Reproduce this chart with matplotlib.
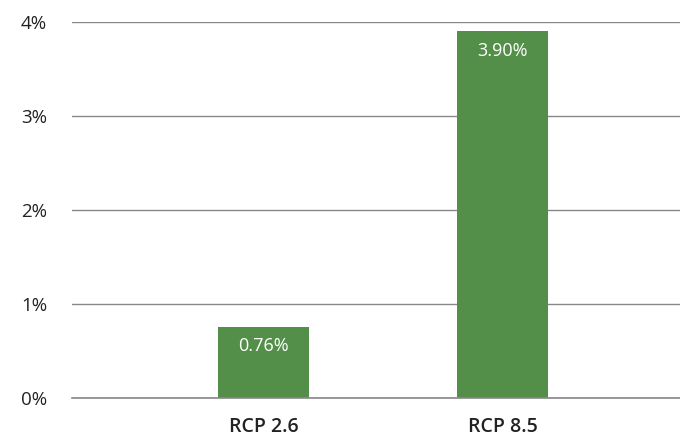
import matplotlib.pyplot as plt
import numpy as np

# Data
scenarios = ["RCP 2.6", "RCP 8.5"]
values = [0.76, 3.90]          # percent
value_labels = ["0.76%", "3.90%"]
yticks = [0, 1, 2, 3, 4]
ytick_labels = ["0%", "1%", "2%", "3%", "4%"]

plt.rcParams['font.family'] = ['Open Sans', 'DejaVu Sans']

fig = plt.figure(figsize=(6.8, 4.4), dpi=100)
ax = fig.add_axes([72/680, 1 - 398/440, 1 - 72/680, (398 - 22)/440])

x = np.arange(len(scenarios))
bars = ax.bar(x, values, width=0.38, color='#548f4a', zorder=3)

for rect, lab in zip(bars, value_labels):
    ax.annotate(lab, (rect.get_x() + rect.get_width()/2, rect.get_height()),
                xytext=(0, -14), textcoords='offset points',
                ha='center', va='center', color='white', fontsize=13)

ax.set_xlim(-0.80, 1.74)
ax.set_ylim(0, 4)
ax.set_yticks(yticks)
ax.set_yticklabels(ytick_labels, fontsize=13.5, color='#222222')
ax.set_xticks(x)
ax.set_xticklabels(scenarios, fontsize=14, fontweight='semibold', color='#222222')

ax.grid(axis='y', color='#888888', linewidth=1.0, zorder=0)
ax.axhline(0, color='#888888', linewidth=1.2, zorder=4, clip_on=False)
for s in ['top', 'right', 'left', 'bottom']:
    ax.spines[s].set_visible(False)
ax.tick_params(axis='both', length=0)
ax.tick_params(axis='y', pad=18)
ax.tick_params(axis='x', pad=14)

plt.savefig("out.png", dpi=100)
